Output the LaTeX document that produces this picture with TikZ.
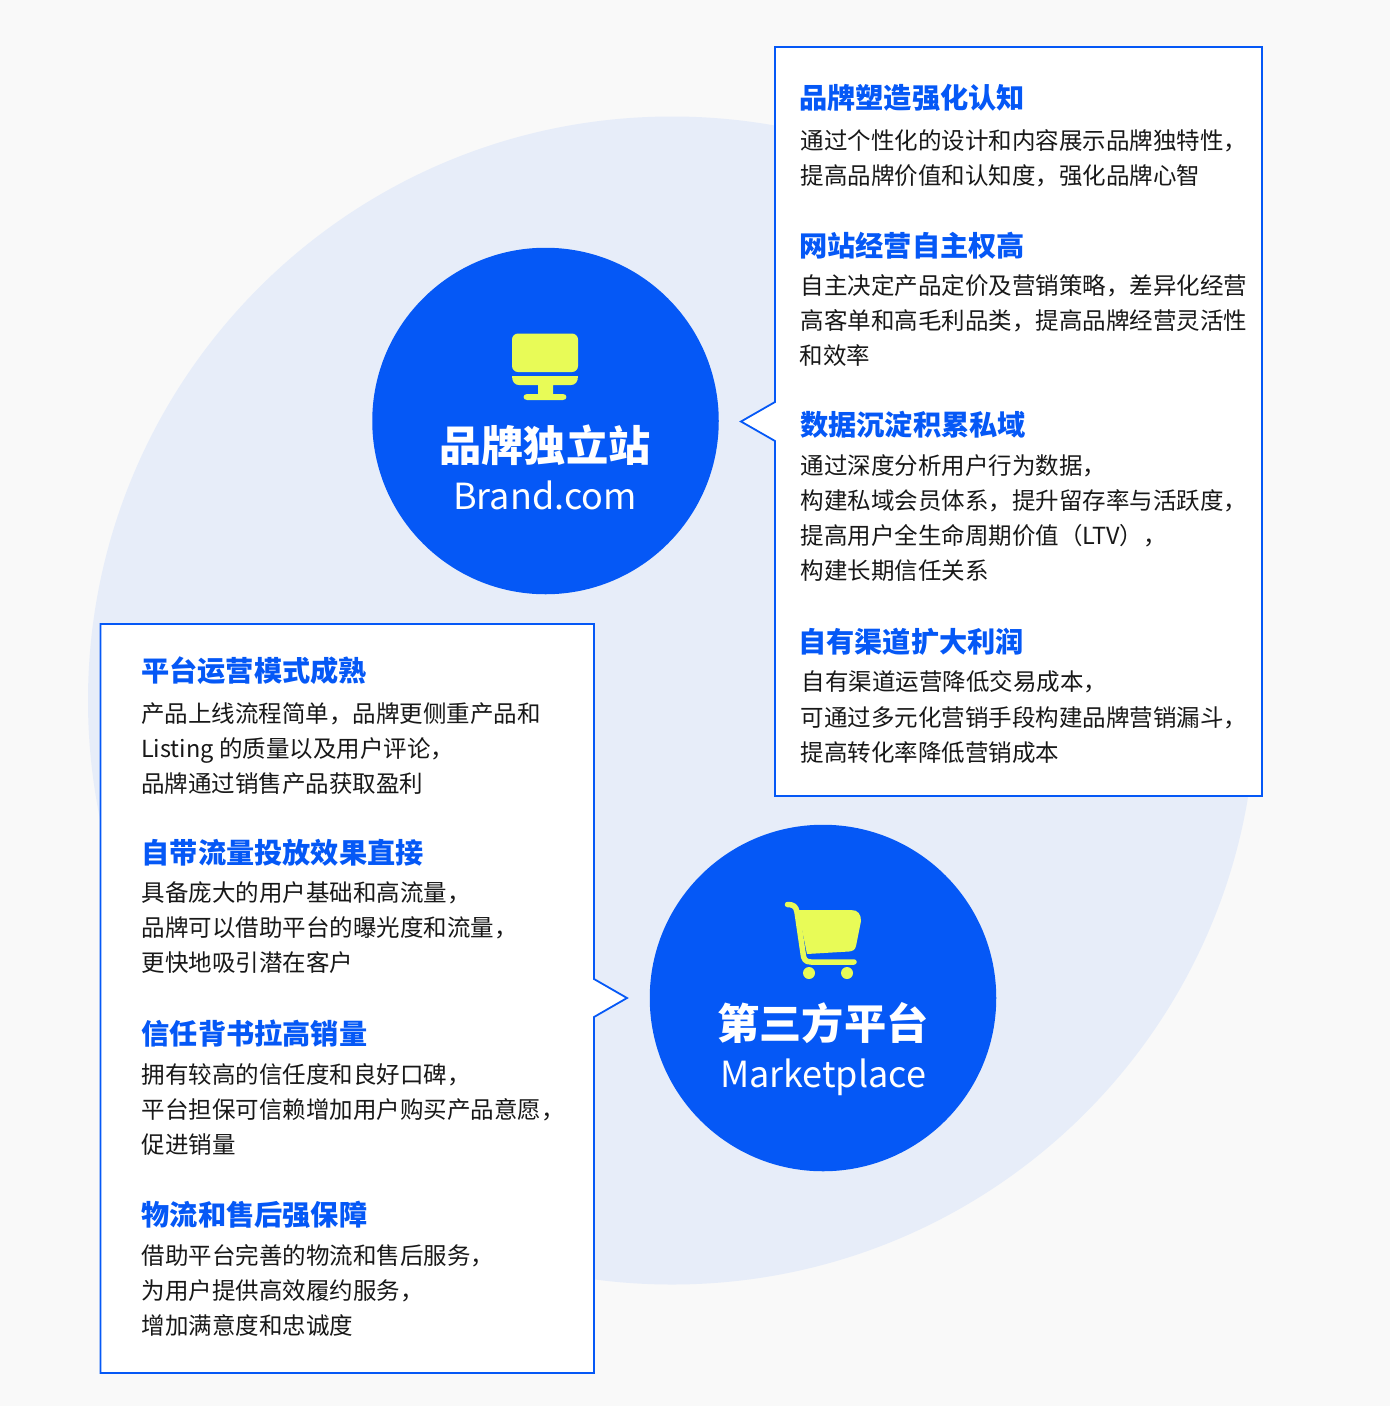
\documentclass[tikz,border=0pt]{standalone}
\usepackage{fontspec}
\setmainfont{Noto Sans CJK SC}
\definecolor{pagebg}{HTML}{F9F9F9}
\definecolor{disc}{HTML}{E7EDF9}
\definecolor{brandblue}{HTML}{0558F6}
\definecolor{lime}{HTML}{E8FB57}
\definecolor{bodyink}{HTML}{181818}
\tikzset{
  x=1pt,y=-1pt,
  hub/.style={circle,fill=brandblue,minimum size=346.5pt,inner sep=0pt},
  panel/.style={draw=brandblue,fill=white,line width=1.8pt,line join=miter},
  headline/.style={anchor=base west,inner sep=0pt,text=brandblue,font=\fontsize{28.2}{28.2}\selectfont\bfseries},
  bodyline/.style={anchor=base west,inner sep=0pt,text=bodyink,font=\fontsize{23.5}{23.5}\selectfont},
  hubtitle/.style={anchor=base,inner sep=0pt,text=white,font=\fontsize{42.2}{42.2}\selectfont\bfseries},
  hubsub/.style={anchor=base,inner sep=0pt,text=white,font=\fontsize{36}{36}\selectfont},
  icon/.style={fill=lime,draw=none},
}
\begin{document}
\begin{tikzpicture}
\useasboundingbox (0,0) rectangle (1390,1406);
\fill[pagebg] (0,0) rectangle (1390,1406);
\fill[disc] (672,700.5) circle[radius=584];

% panels
\draw[panel] (775,47) -- (1262,47) -- (1262,796) -- (775,796) -- (775,441) -- (741,421.5) -- (775,402) -- cycle;
\draw[panel] (100.5,624) -- (594,624) -- (594,979) -- (627,998) -- (594,1017) -- (594,1373) -- (100.5,1373) -- cycle;

% hubs
\node[hub] (brandhub) at (545.5,421) {};
\node[hub] (markethub) at (823,998) {};

% monitor icon
\fill[icon,rounded corners=6pt] (512,333.5) rectangle (578,372);
\fill[icon] (512,376) -- (578,376) .. controls (578,382) and (575,385) .. (571,385) -- (553,385) -- (553,394) -- (563,394)
  .. controls (567.5,394) and (567.5,400) .. (563,400) -- (527,400) .. controls (522.5,400) and (522.5,394) .. (527,394)
  -- (538,394) -- (538,385) -- (519,385) .. controls (515,385) and (512,382) .. (512,376) -- cycle;

% cart icon
\draw[lime,line width=5.5pt,line cap=round,line join=round] (787.5,904.5) .. controls (793,904.5) and (796,906) .. (797,912)
  -- (803,953) .. controls (803.5,959) and (805,962) .. (811,962) -- (854,962);
\fill[icon] (798,910) -- (851,910) .. controls (858,910) and (861,914) .. (861,921) -- (856,946)
  .. controls (855,950) and (853,951) .. (849,951.5) -- (807,954) -- cycle;
\fill[icon] (809,973) circle[radius=6];
\fill[icon] (847,973) circle[radius=6];

% hub labels
\node[hubtitle] (brandtitle) at (545,461) {品牌独立站};
\node[hubsub] (brandsub) at (545,509) {Brand.com};
\node[hubtitle] (markettitle) at (823,1039) {第三方平台};
\node[hubsub] (marketsub) at (823,1087) {Marketplace};

% right panel
\node[headline] (r1) at (799,108.5) {品牌塑造强化认知};
\node[bodyline] (r1a) at (800.5,149.5) {通过个性化的设计和内容展示品牌独特性，};
\node[bodyline] (r1b) at (800.5,184.5) {提高品牌价值和认知度，强化品牌心智};
\node[headline] (r2) at (799,256.5) {网站经营自主权高};
\node[bodyline] (r2a) at (800.5,294.5) {自主决定产品定价及营销策略，差异化经营};
\node[bodyline] (r2b) at (800.5,329.5) {高客单和高毛利品类，提高品牌经营灵活性};
\node[bodyline] (r2c) at (799.5,364.5) {和效率};
\node[headline] (r3) at (800,435.5) {数据沉淀积累私域};
\node[bodyline] (r3a) at (800.5,474) {通过深度分析用户行为数据，};
\node[bodyline] (r3b) at (800.5,509.5) {构建私域会员体系，提升留存率与活跃度，};
\node[bodyline] (r3c) at (800.5,544.5) {提高用户全生命周期价值（LTV），};
\node[bodyline] (r3d) at (800.5,579.5) {构建长期信任关系};
\node[headline] (r4) at (798,652.5) {自有渠道扩大利润};
\node[bodyline] (r4a) at (801.5,690.5) {自有渠道运营降低交易成本，};
\node[bodyline] (r4b) at (800.5,726.5) {可通过多元化营销手段构建品牌营销漏斗，};
\node[bodyline] (r4c) at (800.5,761.5) {提高转化率降低营销成本};

% left panel
\node[headline] (l1) at (141,681) {平台运营模式成熟};
\node[bodyline] (l1a) at (141,722) {产品上线流程简单，品牌更侧重产品和};
\node[bodyline] (l1b) at (141,757.5) {Listing 的质量以及用户评论，};
\node[bodyline] (l1c) at (141,792.5) {品牌通过销售产品获取盈利};
\node[headline] (l2) at (141.5,863) {自带流量投放效果直接};
\node[bodyline] (l2a) at (141.5,901.5) {具备庞大的用户基础和高流量，};
\node[bodyline] (l2b) at (141.5,936.5) {品牌可以借助平台的曝光度和流量，};
\node[bodyline] (l2c) at (141.5,971.5) {更快地吸引潜在客户};
\node[headline] (l3) at (141.5,1044.5) {信任背书拉高销量};
\node[bodyline] (l3a) at (141.5,1083.5) {拥有较高的信任度和良好口碑，};
\node[bodyline] (l3b) at (141.5,1118.5) {平台担保可信赖增加用户购买产品意愿，};
\node[bodyline] (l3c) at (141.5,1153.5) {促进销量};
\node[headline] (l4) at (141.5,1225.5) {物流和售后强保障};
\node[bodyline] (l4a) at (141.5,1264.5) {借助平台完善的物流和售后服务，};
\node[bodyline] (l4b) at (141.5,1299.5) {为用户提供高效履约服务，};
\node[bodyline] (l4c) at (141.5,1334.5) {增加满意度和忠诚度};
\end{tikzpicture}
\end{document}
